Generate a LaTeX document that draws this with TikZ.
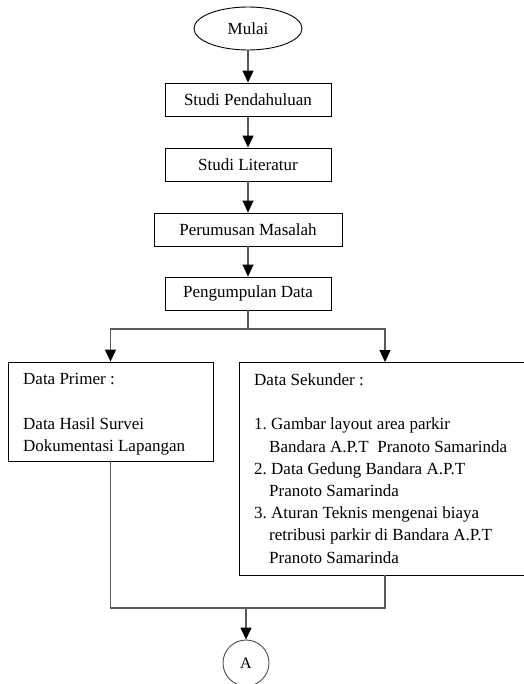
\documentclass[tikz,border=0pt]{standalone}
\usepackage{fontspec}
\setmainfont{Liberation Serif}
\usetikzlibrary{arrows.meta,shapes.geometric}
\frenchspacing
\begin{document}
\begin{tikzpicture}[x=1pt,y=-1pt,
  box/.style={draw=black,line width=0.9pt,inner sep=0pt,font=\fontsize{17}{20}\selectfont},
  txt/.style={inner sep=0pt,align=left,anchor=north west,font=\fontsize{17}{22.2}\selectfont},
  conn/.style={draw=black!65,line width=1.2pt},
  arr/.style={conn,-{Triangle[length=12pt,width=11pt,black]}},
]
\useasboundingbox (0,0) rectangle (523,684);
\node[box,ellipse,minimum width=108pt,minimum height=43pt] (mulai) at (248,28.5) {Mulai};
\node[box,minimum width=166pt,minimum height=33pt] (s1) at (248,99.5) {Studi Pendahuluan};
\node[box,minimum width=166pt,minimum height=33pt] (s2) at (248,164.5) {Studi Literatur};
\node[box,minimum width=188pt,minimum height=33pt] (s3) at (248,229.5) {Perumusan Masalah};
\node[box,minimum width=166pt,minimum height=33pt] (s4) at (248,293.5) {Pengumpulan Data};
\node[box,minimum width=205pt,minimum height=99pt] (primer) at (110.5,411.5) {};
\node[box,minimum width=287pt,minimum height=213pt] (sekunder) at (382.5,468.5) {};
\node[txt] (ptext) at (23,373.5) {Data Primer :\\[22.2pt]Data Hasil Survei\\Dokumentasi Lapangan};
\node[txt] (stext) at (254,373.5) {Data Sekunder :\\[22.2pt]
1. Gambar layout area parkir\\
\hspace*{15pt}Bandara A.P.T\ \ Pranoto Samarinda\\
2. Data Gedung Bandara A.P.T\\
\hspace*{15pt}Pranoto Samarinda\\
3. Aturan Teknis mengenai biaya\\
\hspace*{15pt}retribusi parkir di Bandara A.P.T\\
\hspace*{15pt}Pranoto Samarinda};
\node[draw=black!70,line width=0.9pt,circle,minimum size=46pt,inner sep=0pt,font=\fontsize{16}{18}\selectfont] (A) at (246,663) {A};
\coordinate (split) at (248,329);
\coordinate (sekin) at (385,362);
\coordinate (sekout) at (385,575);
\coordinate (pr) at (385,608);
\coordinate (join) at (246,608);
\draw[arr] (mulai) -- (s1);
\draw[arr] (s1) -- (s2);
\draw[arr] (s2) -- (s3);
\draw[arr] (s3) -- (s4);
\draw[conn] (s4) -- (split);
\draw[arr] (split) -| (primer.north);
\draw[arr] (split) -| (sekin);
\draw[conn] (primer.south) |- (pr) -- (sekout);
\draw[arr] (join) -- (A);
\end{tikzpicture}
\end{document}
